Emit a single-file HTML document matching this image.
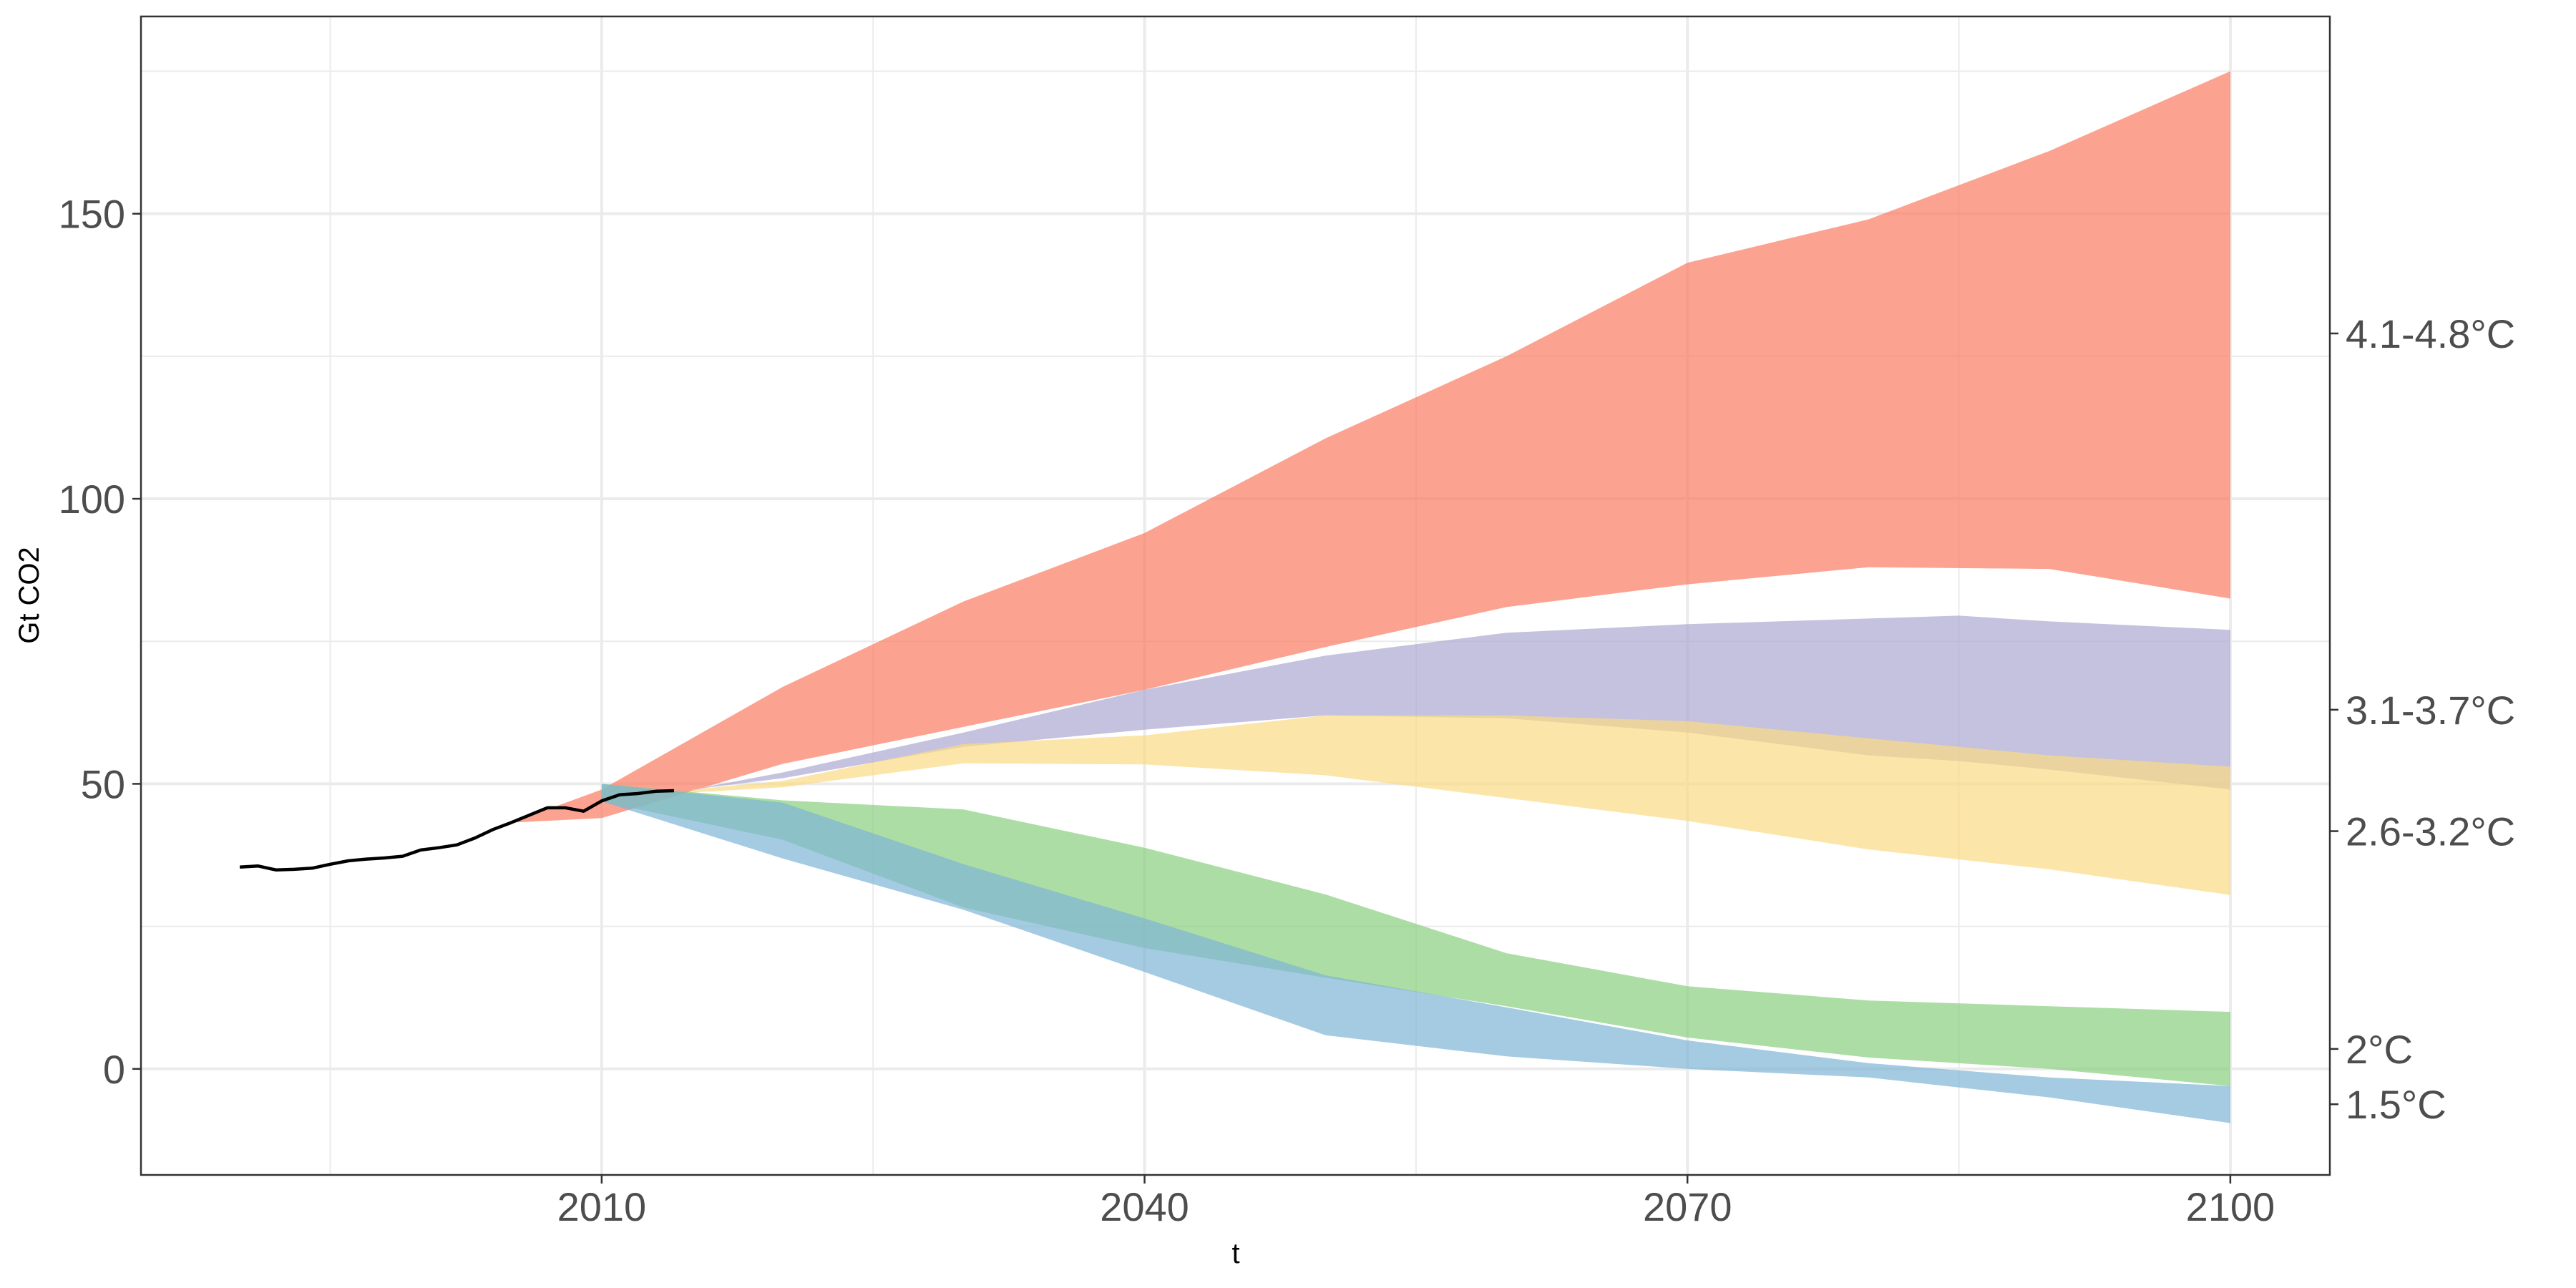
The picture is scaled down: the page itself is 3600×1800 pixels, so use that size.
<!DOCTYPE html>
<html><head><meta charset="utf-8"><style>
html,body{margin:0;padding:0;background:#fff;}
svg{display:block;font-family:"Liberation Sans",sans-serif;}
</style></head><body>
<svg id="chart" width="3600" height="1800" viewBox="0 0 3600 1800" xmlns="http://www.w3.org/2000/svg">
<rect width="3600" height="1800" fill="#fff"/>
<g id="grid"></g>
<g id="bands"></g>
<g id="hist"></g>
<rect x="197" y="23" width="3059" height="1619" fill="none" stroke="#333" stroke-width="2.5"/>
<g id="axes"></g>
<text x="1727" y="1765" font-size="40" fill="#000" text-anchor="middle">t</text>
<text transform="translate(54,832) rotate(-90)" font-size="40" fill="#000" text-anchor="middle">Gt CO2</text>
</svg>
<script>
const years = [2010,2020,2030,2040,2050,2060,2070,2080,2090,2100];
const redYears = [2005,2010,2020,2030,2040,2050,2060,2070,2080,2090,2100];
const redUpper = [43.2,49,67,82,94,110.6,125,141.4,149,161,175];
const redLower = [43.2,44,53.5,60,66.5,74,81,85,88,87.7,82.5];
const purpleYears = [2015,2020,2030,2040,2050,2060,2070,2080,2085,2090,2100];
const purpleUpper = [49,52,59,66.5,72.5,76.5,78,79,79.5,78.5,77];
const purpleLower = [49,51,56.5,59.5,62,61.5,59,55,54,52.5,49];
const yellowYears = [2015,2020,2030,2040,2050,2060,2070,2080,2090,2100];
const yellowUpper = [49,50.5,57,58.5,62,62,61,58,55,53];
const yellowLower = [48.5,49.4,53.6,53.4,51.5,47.5,43.5,38.5,35,30.5];
const greenUpper = [50,47.1,45.5,38.8,30.6,20.3,14.5,12,11,10];
const greenLower = [46.9,40.2,28.3,21.2,16,11,5.5,2,0,-3];
const blueUpper = [50,46.7,35.9,26.4,16.4,10.8,5,1,-1.5,-3];
const blueLower = [46.9,36.9,27.9,17,5.9,2.2,0,-1.5,-5,-9.5];
const histYears = [1990,1991,1992,1993,1994,1995,1996,1997,1998,1999,2000,2001,2002,2003,2004,2005,2006,2007,2008,2009,2010,2011,2012,2013,2014];
const histValues = [35.4,35.6,34.9,35.0,35.2,35.9,36.5,36.8,37.0,37.3,38.4,38.8,39.3,40.5,42.0,43.2,44.5,45.8,45.8,45.2,47.0,48.1,48.3,48.7,48.8];
const xTicks = [2010,2040,2070,2100];
const xMinor = [1995,2025,2055,2085];
const yTicks = [0,50,100,150];
const yMinor = [25,75,125,175];
const rightLabels = ["4.1-4.8°C","3.1-3.7°C","2.6-3.2°C","2°C","1.5°C"];
const rightValues = [129,63,41.7,3.5,-6.2];

const NS="http://www.w3.org/2000/svg";
const L=197,R=3256,T=23,B=1642;
const xMin=1984.54,xMax=2105.5,yMin=-18.6,yMax=184.6;
function sx(v){return L+(v-xMin)/(xMax-xMin)*(R-L);}
function sy(v){return B-(v-yMin)/(yMax-yMin)*(B-T);}
function mk(tag,attrs,parent){const e=document.createElementNS(NS,tag);for(const k in attrs)e.setAttribute(k,attrs[k]);parent.appendChild(e);return e;}

const grid=document.getElementById('grid');
xMinor.forEach(v=>{const l=mk('line',{x1:sx(v),x2:sx(v),y1:T,y2:B,stroke:'#ebebeb','stroke-width':2},grid);

});
yMinor.forEach(v=>{const l=mk('line',{x1:L,x2:R,y1:sy(v),y2:sy(v),stroke:'#ebebeb','stroke-width':2},grid);

});
xTicks.forEach(v=>{const l=mk('line',{x1:sx(v),x2:sx(v),y1:T,y2:B,stroke:'#ebebeb','stroke-width':4},grid);

});
yTicks.forEach(v=>{const l=mk('line',{x1:L,x2:R,y1:sy(v),y2:sy(v),stroke:'#ebebeb','stroke-width':4},grid);

});

const bands=document.getElementById('bands');
function band(xs,up,lo,color,name){
  let d='M'+xs.map((x,i)=>sx(x).toFixed(1)+','+sy(up[i]).toFixed(1)).join('L');
  for(let i=xs.length-1;i>=0;i--)d+='L'+sx(xs[i]).toFixed(1)+','+sy(lo[i]).toFixed(1);
  const p=mk('path',{d:d+'Z',fill:color,'fill-opacity':0.7},bands);
  
  
}
band(redYears,redUpper,redLower,'#FB7B63','band-4.1-4.8c');
band(purpleYears,purpleUpper,purpleLower,'#ABA8D0','band-3.1-3.7c');
band(yellowYears,yellowUpper,yellowLower,'#FBDA83','band-2.6-3.2c');
band(years,greenUpper,greenLower,'#87CE7D','band-2c');
band(years,blueUpper,blueLower,'#7EB5D6','band-1.5c');

const hist=document.getElementById('hist');
const hl=mk('polyline',{points:histYears.map((x,i)=>sx(x).toFixed(1)+','+sy(histValues[i]).toFixed(1)).join(' '),fill:'none',stroke:'#000','stroke-width':4.5,'stroke-linejoin':'round'},hist);



const axes=document.getElementById('axes');
xTicks.forEach(v=>{
  const t=mk('line',{x1:sx(v),x2:sx(v),y1:B,y2:B+12,stroke:'#333','stroke-width':2.5},axes);
  
  
  const tx=mk('text',{x:sx(v),y:B+64,'font-size':56,fill:'#4d4d4d','text-anchor':'middle'},axes);
  tx.textContent=v;
  
  
});
yTicks.forEach(v=>{
  const t=mk('line',{x1:L-12,x2:L,y1:sy(v),y2:sy(v),stroke:'#333','stroke-width':2.5},axes);
  
  
  const tx=mk('text',{x:L-22,y:sy(v)+20,'font-size':56,fill:'#4d4d4d','text-anchor':'end'},axes);
  tx.textContent=v;
  
  
});
rightLabels.forEach((s,i)=>{
  const v=rightValues[i];
  const t=mk('line',{x1:R,x2:R+12,y1:sy(v),y2:sy(v),stroke:'#333','stroke-width':2.5},axes);
  
  
  const tx=mk('text',{x:R+22,y:sy(v)+20,'font-size':56,fill:'#4d4d4d','text-anchor':'start'},axes);
  tx.textContent=s;
  
  
});
</script>
</body></html>
